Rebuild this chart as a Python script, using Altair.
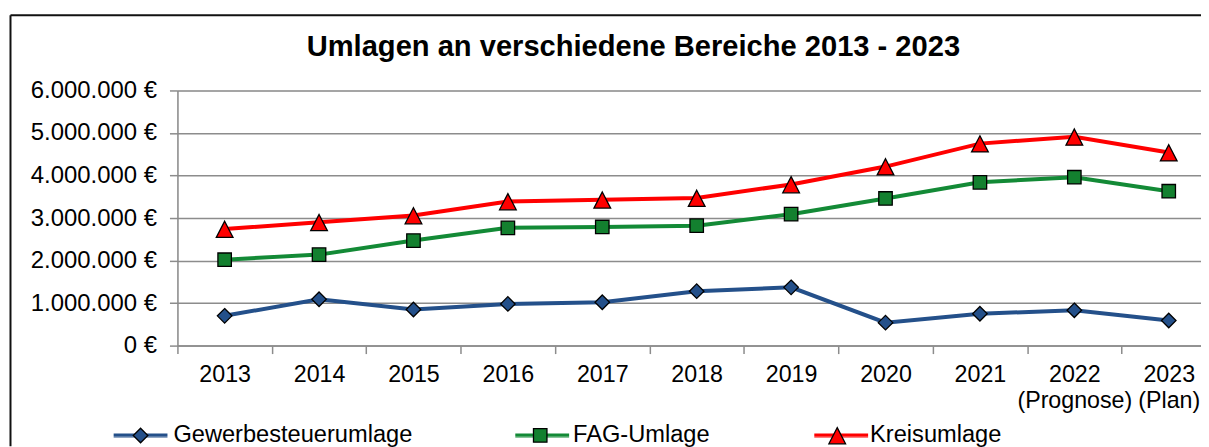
import altair as alt
import pandas as pd

# ---- data ----
years = ["2013", "2014", "2015", "2016", "2017", "2018", "2019", "2020", "2021", "2022", "2023"]
series_names = ["Gewerbesteuerumlage", "FAG-Umlage", "Kreisumlage"]
gewerbesteuerumlage = [700000, 1090000, 850000, 980000, 1020000, 1280000, 1370000, 540000, 750000, 830000, 590000]
fag_umlage = [2020000, 2140000, 2470000, 2770000, 2790000, 2820000, 3090000, 3460000, 3840000, 3960000, 3630000]
kreisumlage = [2740000, 2900000, 3060000, 3390000, 3430000, 3470000, 3790000, 4210000, 4750000, 4910000, 4540000]
year_notes = {"2022": "(Prognose)", "2023": "(Plan)"}
y_ticks = [0, 1000000, 2000000, 3000000, 4000000, 5000000, 6000000]
title_text = "Umlagen an verschiedene Bereiche 2013 - 2023"

colors = ["#24508A", "#138A36", "#FF0000"]
marker_fills = ["#24508A", "#13802F", "#FF0000"]
marker_paths = [
    "M0,-0.27L0.27,0L0,0.27L-0.27,0Z",
    "M-0.25,-0.25H0.25V0.25H-0.25Z",
    "M0,-0.29L0.31,0.31L-0.31,0.31Z",
]
legend_line_path = "M-1,-0.05H1M-1,0H1M-1,0.05H1"

rows = []
for name, vals in zip(series_names, [gewerbesteuerumlage, fag_umlage, kreisumlage]):
    for yr, v in zip(years, vals):
        rows.append({"Jahr": yr, "Wert": v, "Reihe": name, "Reihe2": name})
df = pd.DataFrame(rows)

label_expr = " : ".join(
    [f"datum.value == '{k}' ? ['{k}', '{v}']" for k, v in year_notes.items()]
) + " : datum.value"

FONT = "Liberation Sans"
SYM = 2916
GRID = "#8C8C8C"
LEG_FS = 23.7
SW = 1.3

common_legend = dict(
    title=None, orient="none", legendX=-65, legendY=318, direction="horizontal",
    columns=3, columnPadding=100, symbolSize=SYM, symbolStrokeWidth=SW,
    labelOffset=5, labelFontSize=LEG_FS, labelFont=FONT, labelLimit=500, padding=0,
)

x_enc = alt.X(
    "Jahr:N",
    sort=years,
    scale=alt.Scale(type="band", paddingInner=0, paddingOuter=0),
    axis=alt.Axis(
        title=None, labelAngle=0, labelFontSize=23.3, labelFont=FONT, labelColor="black",
        labelExpr=label_expr, labelLineHeight=26, labelPadding=10,
        tickBand="extent", tickSize=8, tickColor=GRID, tickWidth=1.5,
        domainColor=GRID, domainWidth=1.5, grid=False, labelBaseline="top",
    ),
)
y_enc = alt.Y(
    "Wert:Q",
    scale=alt.Scale(domain=[0, 6000000], nice=False),
    axis=alt.Axis(
        title=None, values=y_ticks, labelFontSize=24, labelFont=FONT, labelColor="black",
        labelExpr="replace(format(datum.value, ',d'), /,/g, '.') + ' €'",
        labelPadding=13, tickSize=8, tickColor=GRID, tickWidth=1.5,
        domainColor=GRID, domainWidth=1.5, grid=True, gridColor=GRID, gridWidth=1.5,
    ),
)

lines = alt.Chart(df).mark_line(strokeWidth=4).encode(
    x=x_enc,
    y=y_enc,
    color=alt.Color(
        "Reihe:N",
        sort=series_names,
        scale=alt.Scale(range=colors),
        legend=alt.Legend(symbolType=legend_line_path, labelOpacity=0, **common_legend),
    ),
    detail="Reihe:N",
)

points = alt.Chart(df).mark_point(filled=True, opacity=1, stroke="black", strokeWidth=SW, size=SYM).encode(
    x=alt.X("Jahr:N", sort=years),
    y="Wert:Q",
    fill=alt.Fill(
        "Reihe2:N",
        scale=alt.Scale(domain=series_names, range=marker_fills),
        legend=alt.Legend(symbolStrokeColor="black", symbolOpacity=1, labelColor="black",
                          **common_legend),
    ),
    shape=alt.Shape("Reihe2:N", scale=alt.Scale(domain=series_names, range=marker_paths)),
)

frame_data = alt.InlineData(values=[{"k": 1}])
frame_top = alt.Chart(frame_data).mark_rule(color="#111111", strokeWidth=2).encode(
    x=alt.value(-167.5), x2=alt.value(1042), y=alt.value(-75.5)
)
frame_left = alt.Chart(frame_data).mark_rule(color="#111111", strokeWidth=2).encode(
    x=alt.value(-167.5), y=alt.value(-75.5), y2=alt.value(357)
)

chart = alt.layer(lines, points, frame_top, frame_left).properties(
    width=1042,
    height=256,
    autosize=alt.AutoSizeParams(type="none"),
    padding={"left": 170, "top": 82, "right": -15, "bottom": 101},
    title=alt.Title(
        title_text, font=FONT, fontSize=29.2, fontWeight="bold", color="black",
        anchor="middle", frame="group", dx=-63.5, offset=-71.5, baseline="alphabetic",
    ),
).configure_view(stroke=None).configure(font=FONT)

chart.save("out.html", embed_options={"renderer": "svg", "actions": False})
